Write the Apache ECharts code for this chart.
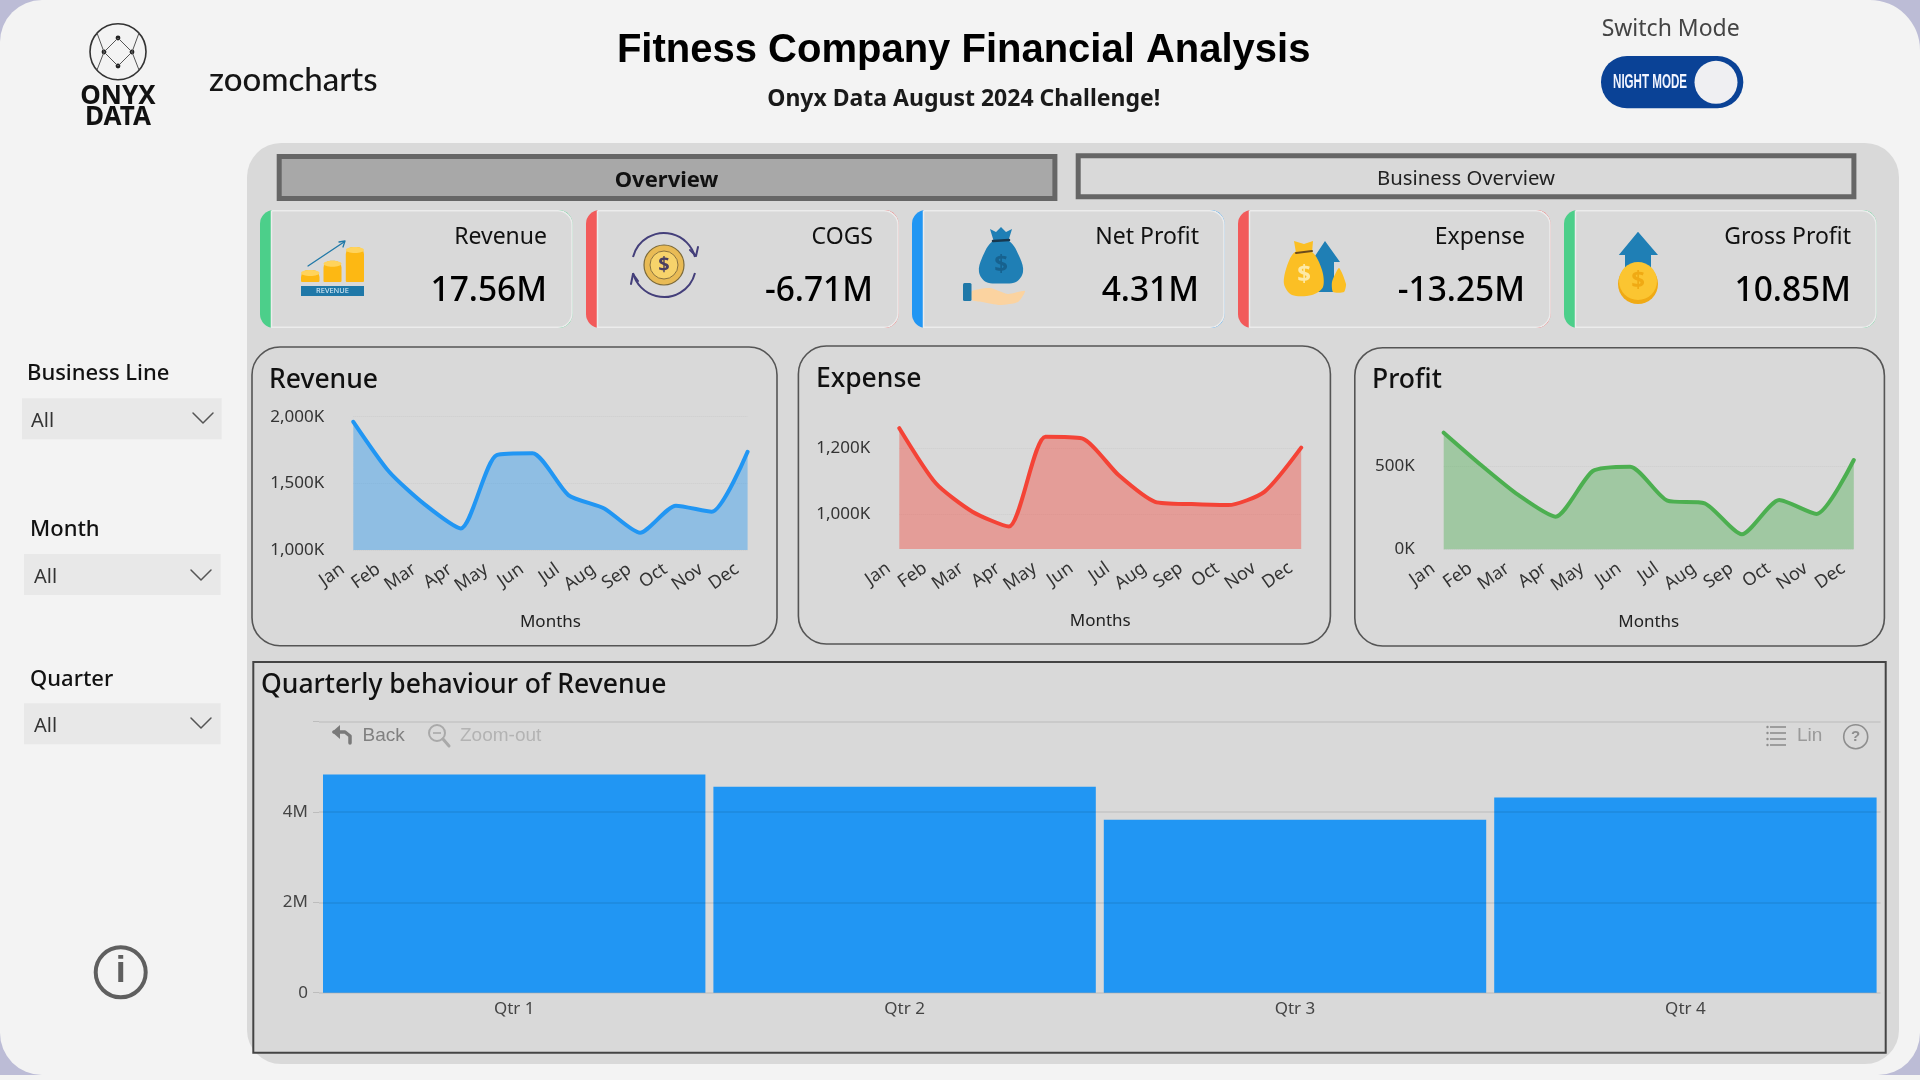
<!DOCTYPE html>
<html>
<head>
<meta charset="utf-8">
<title>Fitness Company Financial Analysis</title>
<style>html,body{margin:0;padding:0;background:#f3f3f3;overflow:hidden}#main{width:1920px;height:1080px}</style>
<script src="https://cdn.jsdelivr.net/npm/echarts@6/dist/echarts.min.js"></script>
</head>
<body>
<div id="main"></div>
<script>
// ---- data ----
const months = ['Jan','Feb','Mar','Apr','May','Jun','Jul','Aug','Sep','Oct','Nov','Dec'];
const revenueK = [1962,1587,1340,1162,1712,1725,1412,1312,1130,1332,1287,1737];
const expenseK = [1261,1094,1008,963,1235,1230,1119,1038,1031,1028,1069,1202];
const profitK  = [700,506,326,196,470,496,292,276,90,296,212,536];
const revenueTicks = [1000,1500,2000];
const expenseTicks = [1000,1200];
const profitTicks  = [0,500];
const quarters = ['Qtr 1','Qtr 2','Qtr 3','Qtr 4'];
const quarterRevenueM = [4.83,4.56,3.83,4.32];
const quarterGridM = [0,2,4,6];
const quarterLabelM = [0,2,4];
const kpiNames  = ['Revenue','COGS','Net Profit','Expense','Gross Profit'];
const kpiValues = ['17.56M','-6.71M','4.31M','-13.25M','10.85M'];
const slicerNames = ['Business Line','Month','Quarter'];

// ---- styling ----
const UI = '"Noto Sans","Open Sans",sans-serif';
const BLUE='#2196f3', RED='#f44336', GREEN='#4caf50';
const g = [];
const Z = -10;
function rect(x,y,w,h,fill,o={}){g.push({type:'rect',z:o.z??Z,shape:{x,y,width:w,height:h,r:o.r||0},style:{fill,stroke:o.stroke||null,lineWidth:o.lw||0}});}
function text(s,x,y,o={}){g.push({type:'text',z:o.z??Z+1,x,y:y+1.5,scaleX:o.sx||1,style:{text:s,fill:o.color||'#111',font:`${o.weight||'normal'} ${o.size||18}px ${o.font||UI}`,textAlign:o.align||'left',textVerticalAlign:'middle'}});}
function circle(cx,cy,r,fill,o={}){g.push({type:'circle',z:o.z??Z+1,shape:{cx,cy,r},style:{fill:fill||'none',stroke:o.stroke||null,lineWidth:o.lw||0}});}
function poly(points,fill,o={}){g.push({type:'polygon',z:o.z??Z+1,shape:{points,smooth:o.smooth||0},style:{fill}});}
function pline(points,stroke,lw,o={}){g.push({type:'polyline',z:o.z??Z+1,shape:{points},style:{fill:'none',stroke,lineWidth:lw,lineCap:'round',lineJoin:'round'}});}
function arc(cx,cy,r,a,b,stroke,lw,o={}){g.push({type:'arc',z:o.z??Z+1,shape:{cx,cy,r,startAngle:a,endAngle:b,clockwise:true},style:{fill:'none',stroke,lineWidth:lw}});}
function line(x1,y1,x2,y2,stroke,lw){g.push({type:'line',z:Z+1,shape:{x1,y1,x2,y2},style:{stroke,lineWidth:lw}});}

// page + big panel
rect(0,0,1920,1075,'#bcbcd6',{z:Z-4});
rect(0,0,1920,1075,'#f3f3f3',{r:[42,50,42,42],z:Z-3});
rect(247,143,1652,921,'#d9d9d9',{r:34,z:Z-2});

// header
text('Fitness Company Financial Analysis',963.7,49,{size:40,weight:'bold',font:'"Liberation Sans",Arial,sans-serif',align:'center',color:'#000'});
text('Onyx Data August 2024 Challenge!',963.7,98,{size:23,weight:'bold',align:'center',color:'#1a1a1a'});
text('Switch Mode',1670.7,28,{size:23,color:'#444',align:'center'});
rect(1601,56,142.3,52.3,'#0a4296',{r:26,z:Z});
circle(1716,82.3,21.5,'#efeff2');
text('NIGHT MODE',1613,81,{size:20,weight:'bold',font:'"Liberation Sans",sans-serif',color:'#f2f5ff',sx:0.58});

// logos
circle(118,51.7,28,null,{stroke:'#333',lw:1.6});
[[118,38],[104,52],[132,52],[118,66]].forEach(p=>circle(p[0],p[1],2.4,'#222'));
pline([[97,33],[104,52],[118,66],[132,52],[139,33]],'#555',1);
pline([[97,70],[104,52],[118,38],[132,52],[139,70]],'#555',1);
text('ONYX',118,95,{size:26,weight:'bold',align:'center',color:'#111'});
text('DATA',118,116,{size:26,weight:'bold',align:'center',color:'#111'});
text('zoomcharts',209,79,{size:33,weight:'500',font:'Lato,"Noto Sans",sans-serif',color:'#151515'});

// slicers
const slicerRows = [[27,372,22,398.3,199.7,31,418,193],[30,528,24,554,196.7,34,575,191],[30,678,24,703.3,196.7,34,723,191]];
slicerNames.forEach((n,i)=>{
  const [lx,ly,bx,by,bw,ax,cy,cx]=slicerRows[i];
  text(n,lx,ly,{size:22,weight:'500',color:'#111'});
  rect(bx,by,bw,41,'#e8e8e8',{z:Z});
  text('All',ax,by+21.5,{size:20,color:'#333'});
  pline([[cx,cy-5],[cx+10,cy+5],[cx+20,cy-5]],'#555',1.5);
});

// info
circle(120.7,972.3,25,null,{stroke:'#5f5f5f',lw:4});
text('i',120.7,971,{size:36,weight:'bold',font:'"Liberation Sans",sans-serif',align:'center',color:'#5f5f5f'});

// tabs
rect(279.2,156.5,775.7,42,'#a8a8a8',{stroke:'#666',lw:5,z:Z});
text('Overview',666.5,179,{size:22,weight:'bold',align:'center',color:'#111'});
rect(1078.2,155.8,775.7,41,'#d9d9d9',{stroke:'#666',lw:5,z:Z});
text('Business Overview',1466,178,{size:20.3,align:'center',color:'#222'});

// KPI cards
const stripe = ['#4ccf8a','#f25a5a',BLUE,'#f25a5a','#4ccf8a'];
kpiNames.forEach((n,i)=>{
  const x=260+i*326;
  rect(x,210,312.5,118,stripe[i],{r:14,z:Z});
  rect(x+11.5,210.8,300.5,116.5,'#d9d9d9',{r:[0,14,14,0],stroke:'#ececec',lw:1.5,z:Z});
  text(n,x+287,236,{size:23,align:'right',color:'#111'});
  text(kpiValues[i],x+287,290,{size:33.5,weight:'500',align:'right',color:'#000'});
});
// icon: revenue
[[301,270,18.5],[323.5,260.7,18],[345.8,247,18.2]].forEach(b=>{rect(b[0],b[1],b[2],282-b[1],'#fdb813',{r:[7,7,1,1],z:Z+1});
  g.push({type:'ellipse',z:Z+1,shape:{cx:b[0]+b[2]/2,cy:b[1]+3,rx:b[2]/2,ry:3},style:{fill:'#ffd35c'}});});
rect(301,286,63,10,'#1f78a8',{z:Z+1});
text('REVENUE',332.5,289.5,{size:7.5,align:'center',color:'#e4f1fa',z:Z+2});
pline([[308,266],[344,242]],'#1f78a8',1.3);
pline([[339,242],[345,241],[343,247]],'#1f78a8',1.3);
// icon: cogs
arc(664,265,32,Math.PI*1.08,Math.PI*1.92,'#443f7a',2);
arc(664,265,32,Math.PI*0.08,Math.PI*0.92,'#443f7a',2);
pline([[690,250],[696,256],[698,247]],'#443f7a',2);
pline([[638,281],[633,274],[631,284]],'#443f7a',2);
circle(664,265,20,'#e9bb55',{stroke:'#7c6a3a',lw:1.2});
circle(664,265,14,'#f7d36b',{stroke:'#8a7340',lw:1});
text('$',664,263.5,{size:20,weight:'bold',align:'center',color:'#4a4060',z:Z+2});
// icon: net profit
poly([[993,241],[982,258],[979,272],[986,282],[1001,283.5],[1016,282],[1023,272],[1020,258],[1009,241]],'#1f7fb5',{smooth:0.35});
poly([[990,229],[996,232],[1001,227],[1006,232],[1012,229],[1008,242],[994,242]],'#1f7fb5');
pline([[993,241],[1009,240]],'#17384f',2.5);
text('$',1001,264,{size:24,weight:'bold',align:'center',color:'#17628f',z:Z+2});
poly([[972,291],[990,288],[1008,294],[1025,291],[1018,302],[1000,305],[982,302],[972,300]],'#fbd3a0',{smooth:0.2});
rect(963,283,8.5,18,'#1f78a8',{r:1.5,z:Z+1});
// icon: expense
poly([[1325,241],[1340,262],[1334,262],[1334,292],[1317,292],[1317,262],[1311,262]],'#1f7fb5');
poly([[1295,252],[1287,266],[1284,284],[1292,295],[1312,295],[1323,287],[1322,270],[1312,252]],'#fbbf24',{smooth:0.3});
poly([[1294,241],[1304,244],[1313,241],[1312,253],[1296,253]],'#fbbf24');
pline([[1296,253],[1312,251]],'#6b4a1d',2);
poly([[1339,268],[1346,284],[1344,292],[1333,292],[1332,282]],'#fbbf24',{smooth:0.2});
text('$',1304,274,{size:24,weight:'bold',align:'center',color:'#fde9a6',z:Z+2});
// icon: gross profit
poly([[1638,231.7],[1658,255],[1651,255],[1651,268],[1625,268],[1625,255],[1618.8,255]],'#1f7fb5');
circle(1638,284,20,'#f0aa14');
circle(1638,281,19,'#fbc531');
text('$',1638,280,{size:24,weight:'bold',align:'center',color:'#f0aa14',z:Z+2});

// chart panels
const panels=[[252,347,525,298.7,'Revenue',269,379],[798.4,346,532,298,'Expense',816,378],[1354.8,347.7,529.6,298.3,'Profit',1372,379]];
panels.forEach(p=>{
  rect(p[0],p[1],p[2],p[3],'#d9d9d9',{r:28,stroke:'#555',lw:1.6,z:Z});
  text(p[4],p[5],p[6],{size:26.5,weight:'500',color:'#111'});
});
rect(253.3,662,1632.4,390.7,'#d9d9d9',{stroke:'#444',lw:2,z:Z});
text('Quarterly behaviour of Revenue',261,684,{size:26.5,weight:'500',color:'#111'});

// toolbar of the bar chart
const TB='"Liberation Sans",Arial,sans-serif';
pline([[350,743],[350,736],[345,732],[334,732]],'#7a7a7a',3.5);
poly([[332,732],[340,725],[340,739]],'#7a7a7a');
text('Back',362.5,734,{size:19,font:TB,color:'#808080'});
circle(437,733,8,null,{stroke:'#a9a9a9',lw:2});
pline([[443,739],[449,746]],'#a9a9a9',3);
line(433,733,441,733,'#a9a9a9',1.6);
text('Zoom-out',460,734,{size:19,font:TB,color:'#b3b3b3'});
[727,733,739,745].forEach(y=>{line(1770,y,1786,y,'#8e8e8e',1.6);circle(1767.5,y,1.2,'#8e8e8e');});
text('Lin',1797,734.5,{size:19,font:TB,color:'#9a9a9a'});
circle(1855.7,736.7,12,null,{stroke:'#8e8e8e',lw:1.6});
text('?',1855.7,735.5,{size:15,weight:'bold',font:TB,align:'center',color:'#8e8e8e'});

// ---- charts ----
function lineChart(idx,vals,color){
  return {type:'line',xAxisIndex:idx,yAxisIndex:idx,data:vals,smooth:0.22,symbol:'none',clip:false,
    lineStyle:{color,width:4,cap:'round',join:'round'},areaStyle:{color,opacity:0.4}};
}
const gridRects=[[353.3,416.7,394.3,133.3],[899.3,415.3,401.9,133.7],[1443.7,416,410.1,133.3],[319,721.7,1561.6,271]];
const yRanges=[[1000,2000,revenueTicks],[895,1300,expenseTicks],[0,800,profitTicks]];
const fmtK=v=>v.toLocaleString('en-US')+'K';
const option={
  animation:false,
  backgroundColor:'#f3f3f3',
  graphic:{elements:g},
  grid:gridRects.map(r=>({left:r[0],top:r[1],width:r[2],height:r[3],containLabel:false})),
  xAxis:[0,1,2].map(i=>({type:'category',gridIndex:i,data:months,boundaryGap:false,
      axisLine:{show:false},axisTick:{show:false},
      axisLabel:{interval:0,rotate:35,margin:10,fontSize:18,color:'#333',fontFamily:UI,padding:[0,13,0,0]},
      name:'Months',nameLocation:'middle',nameGap:64,nameTextStyle:{fontSize:17,color:'#222',fontFamily:UI}}))
    .concat([{type:'category',gridIndex:3,data:quarters,
      axisLine:{show:false},axisTick:{show:false},
      axisLabel:{margin:8,fontSize:17,color:'#444',fontFamily:UI}}]),
  yAxis:yRanges.map((r,i)=>({type:'value',gridIndex:i,min:r[0],max:r[1],
      axisLine:{show:false},axisTick:{show:false,customValues:r[2]},
      axisLabel:{customValues:r[2],formatter:fmtK,margin:29,fontSize:17,color:'#333',fontFamily:UI,padding:[2,0,0,0]},
      splitLine:{show:true,lineStyle:{type:'dotted',color:'#cdcdcd',width:1}}}))
    .concat([{type:'value',gridIndex:3,min:0,max:6,z:3,
      axisLine:{show:false},
      axisTick:{show:true,length:6,lineStyle:{color:'#bdbdbd'},customValues:quarterGridM},
      axisLabel:{customValues:quarterLabelM,formatter:v=>v===0?'0':v+'M',margin:11,fontSize:17,color:'#444',fontFamily:UI,padding:[2,0,0,0]},
      splitLine:{show:true,lineStyle:{color:'rgba(0,0,0,0.09)',width:1.5}}}]),
  series:[
    lineChart(0,revenueK,BLUE),
    lineChart(1,expenseK,RED),
    lineChart(2,profitK,GREEN),
    {type:'bar',xAxisIndex:3,yAxisIndex:3,data:quarterRevenueM,barCategoryGap:'2.05%',itemStyle:{color:BLUE}}
  ]
};
const chart=echarts.init(document.getElementById('main'),null,{width:1920,height:1080});
chart.setOption(option);
</script>
</body>
</html>
